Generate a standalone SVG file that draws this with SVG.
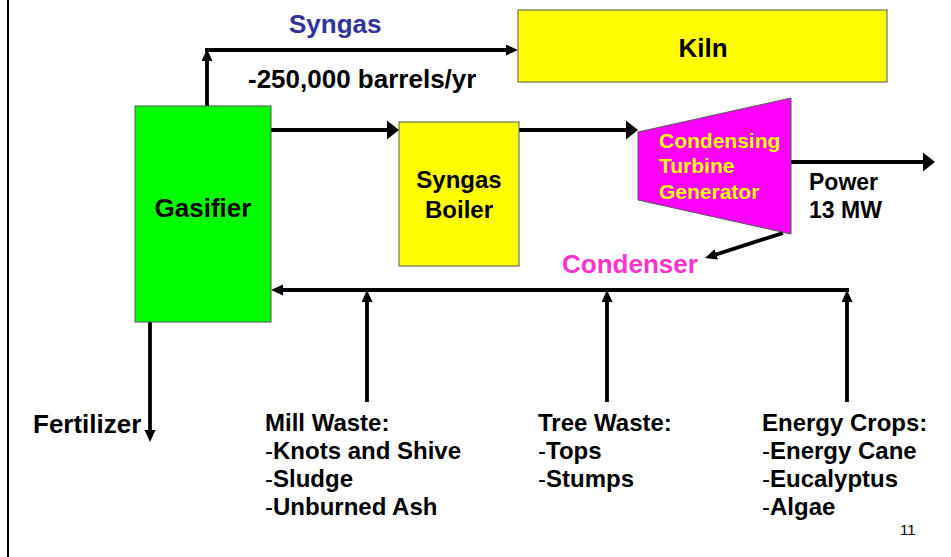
<svg xmlns="http://www.w3.org/2000/svg" width="951" height="557" viewBox="0 0 951 557">
<style>
text{font-family:"Liberation Sans",Arial,sans-serif;font-weight:bold;fill:#000}
.n{font-weight:normal}
.box{stroke:#555;stroke-width:1}
.c{stroke:#000;stroke-width:3.8;fill:none}
.lg{marker-end:url(#big)}
.sm{marker-end:url(#small)}
</style>
<defs>
<marker id="big" markerUnits="userSpaceOnUse" markerWidth="13" markerHeight="20" refX="3" refY="9.5" orient="auto">
<path d="M0,0 L12,9.5 L0,19 z" fill="#000"/>
</marker>
<marker id="small" markerUnits="userSpaceOnUse" markerWidth="13" markerHeight="12" refX="3" refY="5.5" orient="auto">
<path d="M0,0 L12,5.5 L0,11 z" fill="#000"/>
</marker>
</defs>
<rect width="951" height="557" fill="#fff"/>
<line x1="8" y1="0" x2="8" y2="557" stroke="#000" stroke-width="2"/>

<g id="connectors">
<line class="c sm" x1="207" y1="106" x2="207" y2="58"/>
<line class="c sm" x1="205" y1="50" x2="509" y2="50"/>
<line class="c lg" x1="271" y1="130" x2="390" y2="130"/>
<line class="c lg" x1="519" y1="130" x2="629" y2="130"/>
<line class="c lg" x1="791" y1="162" x2="926" y2="162"/>
<line class="c sm" x1="783" y1="233" x2="713.5" y2="255.3"/>
<line class="c sm" x1="849" y1="290" x2="280" y2="290"/>
<line class="c sm" x1="367" y1="402" x2="367" y2="299"/>
<line class="c sm" x1="607" y1="402" x2="607" y2="299"/>
<line class="c sm" x1="847" y1="402" x2="847" y2="299"/>
<line class="c sm" x1="150" y1="322" x2="150" y2="433"/>
</g>

<g id="kiln">
<rect class="box" x="518" y="10" width="369" height="72" fill="#ffff00"/>
<text x="703" y="57" font-size="26" text-anchor="middle">Kiln</text>
</g>

<g id="gasifier">
<rect class="box" x="135" y="106" width="136" height="216" fill="#00ff00"/>
<text x="203" y="217" font-size="26" text-anchor="middle">Gasifier</text>
</g>

<g id="boiler">
<rect class="box" x="399" y="122" width="120" height="144" fill="#ffff00"/>
<text x="459" y="188" font-size="24" text-anchor="middle">Syngas</text>
<text x="459" y="218" font-size="24" text-anchor="middle">Boiler</text>
</g>

<g id="turbine">
<polygon class="box" points="638,132 791,98 791,234 638,200" fill="#ff00ff"/>
<text x="659" y="148" font-size="21" style="fill:#ffff00">Condensing</text>
<text x="659" y="173" font-size="21" style="fill:#ffff00">Turbine</text>
<text x="659" y="199" font-size="21" style="fill:#ffff00">Generator</text>
</g>

<g id="labels">
<text x="289" y="33" font-size="26" style="fill:#333399">Syngas</text>
<text x="248" y="88" font-size="26">-250,000 barrels/yr</text>
<text x="809" y="190" font-size="23">Power</text>
<text x="809" y="218" font-size="23">13 MW</text>
<text x="562" y="273" font-size="26" style="fill:#ff33cc">Condenser</text>
<text x="33" y="433" font-size="26">Fertilizer</text>
</g>

<g id="mill-waste" font-size="24">
<text x="265" y="431" font-size="24">Mill Waste:</text>
<text x="265" y="459" font-size="24"><tspan class="n">-</tspan>Knots and Shive</text>
<text x="265" y="487" font-size="24"><tspan class="n">-</tspan>Sludge</text>
<text x="265" y="515" font-size="24"><tspan class="n">-</tspan>Unburned Ash</text>
</g>

<g id="tree-waste">
<text x="538" y="431" font-size="24">Tree Waste:</text>
<text x="538" y="459" font-size="24"><tspan class="n">-</tspan>Tops</text>
<text x="538" y="487" font-size="24"><tspan class="n">-</tspan>Stumps</text>
</g>

<g id="energy-crops">
<text x="762" y="431" font-size="24">Energy Crops:</text>
<text x="762" y="459" font-size="24"><tspan class="n">-</tspan>Energy Cane</text>
<text x="762" y="487" font-size="24"><tspan class="n">-</tspan>Eucalyptus</text>
<text x="762" y="515" font-size="24"><tspan class="n">-</tspan>Algae</text>
</g>

<text x="900" y="535" font-size="15" class="n">11</text>
</svg>
